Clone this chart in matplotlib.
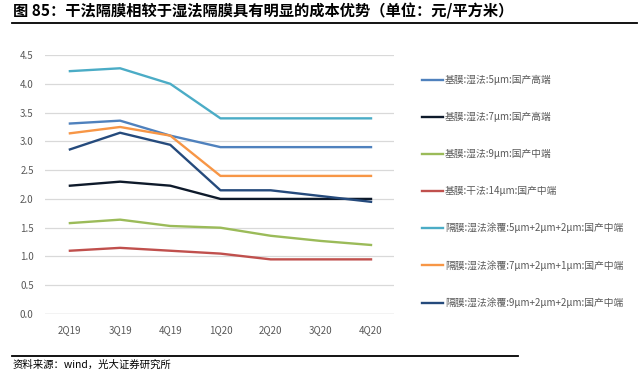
import matplotlib.pyplot as plt
from matplotlib.lines import Line2D

plt.rcParams['font.family'] = ['Noto Sans CJK SC', 'DejaVu Sans']

quarters = ['2Q19', '3Q19', '4Q19', '1Q20', '2Q20', '3Q20', '4Q20']

wet5 = [3.31, 3.36, 3.10, 2.90, 2.90, 2.90, 2.90]
wet7 = [2.23, 2.30, 2.23, 2.00, 2.00, 2.00, 2.00]
wet9 = [1.58, 1.64, 1.53, 1.50, 1.36, 1.27, 1.20]
dry14 = [1.10, 1.15, 1.10, 1.05, 0.95, 0.95, 0.95]
coat5 = [4.22, 4.27, 4.00, 3.40, 3.40, 3.40, 3.40]
coat7 = [3.14, 3.25, 3.10, 2.40, 2.40, 2.40, 2.40]
coat9 = [2.86, 3.15, 2.94, 2.15, 2.15, 2.05, 1.95]

names = ['基膜:湿法:5μm:国产高端', '基膜:湿法:7μm:国产高端', '基膜:湿法:9μm:国产中端',
         '基膜:干法:14μm:国产中端', '隔膜:湿法涂覆:5μm+2μm+2μm:国产中端',
         '隔膜:湿法涂覆:7μm+2μm+1μm:国产中端', '隔膜:湿法涂覆:9μm+2μm+2μm:国产中端']
colors = ['#4f81bd', '#0e1a2b', '#9bbb59', '#c0504d', '#4bacc6', '#f79646', '#254a7c']
series = [wet5, wet7, wet9, dry14, coat5, coat7, coat9]

fig = plt.figure(figsize=(6.4, 3.77), dpi=100)
ax = fig.add_axes([0.07, 0.167, 0.545, 0.687])

x = range(len(quarters))
for vals, c, n in zip(series, colors, names):
    ax.plot(x, vals, color=c, lw=1.7, label=n)

ax.set_ylim(0, 4.5)
ax.set_xlim(-0.5, 6.45)
ax.set_yticks([0, 0.5, 1, 1.5, 2, 2.5, 3, 3.5, 4, 4.5])
ax.set_yticklabels(['%.1f' % v for v in ax.get_yticks()])
ax.set_xticks(list(x))
ax.set_xticklabels(quarters)
ax.tick_params(labelsize=7, colors='#595959', length=0, pad=8)
ax.grid(axis='y', color='#d9d9d9', lw=0.9)
ax.set_axisbelow(True)
for s in ax.spines.values():
    s.set_visible(False)
ax.axhline(0, color='#d9d9d9', lw=1)

handles = [Line2D([0], [0], color=c, lw=1.7) for c in colors]
fig.legend(handles, names, loc='upper left', bbox_to_anchor=(0.645, 0.825),
           frameon=False, fontsize=7, labelspacing=2.75, handlelength=2.2,
           handletextpad=0.2, labelcolor='#595959')

fig.text(0.02, 0.99, '图 85：干法隔膜相较于湿法隔膜具有明显的成本优势（单位：元/平方米）',
         fontsize=11, fontweight='bold', va='top')
fig.add_artist(Line2D([0.018, 0.995], [0.94, 0.94], color='black', lw=1.3))
fig.add_artist(Line2D([0.018, 0.81], [0.056, 0.056], color='black', lw=1.3))
fig.text(0.02, 0.045, '资料来源：wind，光大证券研究所', fontsize=7.5, va='top')

fig.savefig('out.png', dpi=100, facecolor='white')
